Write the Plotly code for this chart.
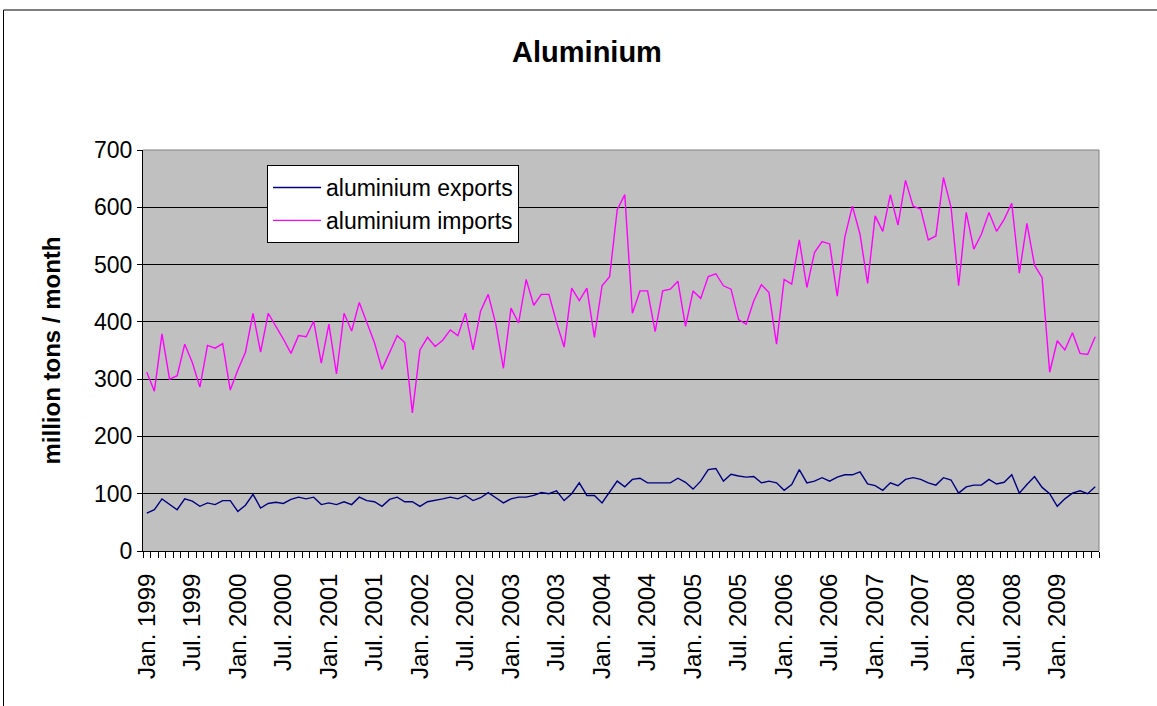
import plotly.graph_objects as go

# monthly values, Jan 1999 .. Jun 2009
years = list(range(1999, 2010))
month_names = ["Jan.", "Feb.", "Mar.", "Apr.", "May", "Jun.",
               "Jul.", "Aug.", "Sep.", "Oct.", "Nov.", "Dec."]
months = [f"{m} {y}" for y in years for m in month_names][:126]

exports = [
    66, 72, 91, 81, 72, 91, 87, 78, 84, 81, 88, 88, 69, 80, 99, 75, 83, 85, 83, 90, 94,
    91, 94, 81, 84, 81, 86, 81, 94, 88, 86, 78, 90, 94, 86, 86, 78, 86, 88, 91, 94, 91,
    97, 88, 93, 102, 93, 84, 91, 94, 94, 97, 102, 100, 105, 88, 100, 119, 97, 97, 84, 103, 122,
    112, 125, 127, 119, 119, 119, 119, 127, 120, 108, 122, 142, 144, 122, 134, 131, 129, 130, 119, 122, 119,
    106, 116, 142, 119, 122, 128, 122, 129, 133, 133, 138, 117, 114, 106, 119, 114, 125, 128, 125, 119, 115,
    128, 124, 101, 112, 115, 115, 125, 117, 120, 133, 101, 116, 130, 111, 100, 78, 91, 101, 105, 100, 112,
]

imports = [
    312, 279, 379, 300, 306, 361, 329, 286, 359, 354, 362, 281, 316, 347, 415, 347, 415, 393, 370, 345, 376,
    374, 401, 328, 396, 309, 415, 384, 434, 399, 364, 317, 347, 376, 364, 241, 351, 373, 357, 368, 386, 376,
    415, 351, 419, 448, 396, 319, 424, 398, 474, 429, 448, 448, 399, 356, 459, 437, 459, 373, 463, 479, 596,
    622, 415, 454, 454, 383, 454, 457, 471, 392, 454, 441, 479, 484, 463, 457, 404, 396, 437, 465, 451, 361,
    474, 466, 543, 460, 521, 540, 536, 445, 548, 602, 553, 467, 585, 558, 622, 569, 647, 602, 597, 543, 550,
    652, 600, 463, 591, 527, 553, 591, 558, 579, 607, 485, 572, 499, 477, 312, 367, 351, 381, 345, 343, 374,
]

x = list(range(len(months)))
label_idx = x[::6]

FONT = "Arial, Liberation Sans, sans-serif"
W, H = 1157, 706

# plot area in reference pixels
PX0, PX1, PY0, PY1 = 143, 1099, 150, 551
PW, PH = PX1 - PX0, PY1 - PY0


def px(v):
    return (v - PX0) / PW


def py(v):
    return (PY1 - v) / PH


fig = go.Figure()
fig.add_trace(go.Scatter(x=x, y=exports, mode="lines", name="aluminium exports",
                         line=dict(color="#000080", width=1.4)))
fig.add_trace(go.Scatter(x=x, y=imports, mode="lines", name="aluminium imports",
                         line=dict(color="#FF00FF", width=1.4)))

fig.update_layout(
    width=W, height=H,
    margin=dict(l=PX0, r=W - PX1, t=PY0, b=H - PY1),
    paper_bgcolor="white",
    plot_bgcolor="#C0C0C0",
    font=dict(family=FONT, color="black", size=23),
    title=dict(text="<b>Aluminium</b>", x=587 / W, xref="container", xanchor="center",
               y=1 - 52 / H, yref="container", yanchor="middle",
               font=dict(size=29, family=FONT)),
    legend=dict(x=px(267), y=py(165), xanchor="left", yanchor="top",
                bgcolor="white", bordercolor="black", borderwidth=1,
                font=dict(size=23, family=FONT), tracegroupgap=0, itemwidth=48),
    showlegend=True,
)

fig.update_xaxes(
    range=[-0.5, len(x) - 0.5],
    tickmode="array", tickvals=label_idx, ticktext=[months[i] for i in label_idx],
    tickangle=-90, ticks="outside", ticklen=12, tickcolor="rgba(0,0,0,0)",
    showgrid=False,
    showline=True, linecolor="black", linewidth=1,
    tickfont=dict(size=24),
    minor=dict(tickmode="array", tickvals=[i - 0.5 for i in range(len(x) + 1)],
               ticks="outside", ticklen=6, tickcolor="black", showgrid=False),
    zeroline=False,
)
fig.update_yaxes(
    range=[0, 700], dtick=100, tick0=0,
    showgrid=True, gridcolor="black", gridwidth=1,
    ticks="outside", ticklen=5, tickcolor="black",
    showline=True, linecolor="black", linewidth=1,
    zeroline=False,
    tickfont=dict(size=23),
    title=dict(text="<b>million tons / month</b>", font=dict(size=24), standoff=26),
)

# gray plot-area border on top and right
fig.add_shape(type="line", xref="paper", yref="paper", x0=0, x1=1, y0=1, y1=1,
              line=dict(color="#808080", width=1))
fig.add_shape(type="line", xref="paper", yref="paper", x0=1, x1=1, y0=0, y1=1,
              line=dict(color="#808080", width=1))
# outer chart frame
fig.add_shape(type="rect", xref="paper", yref="paper",
              x0=px(3.5), x1=px(1175), y0=py(725), y1=py(10),
              line=dict(color="black", width=1))

# drop the page's default body margin so the figure sits at the window origin
fig.write_html("out.html", config={"displayModeBar": False},
               post_script="document.body.style.margin = '0px';")
